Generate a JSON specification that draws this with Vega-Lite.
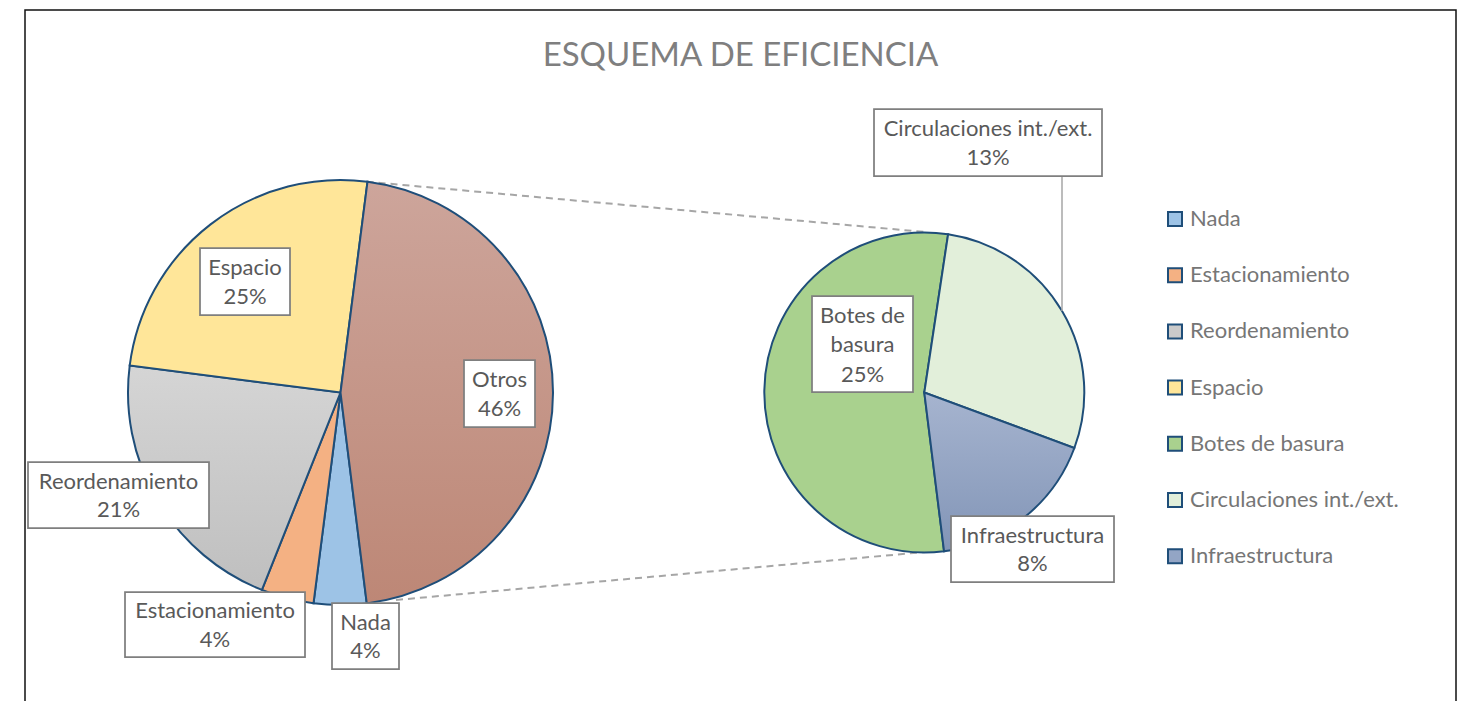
{
  "$schema": "https://vega.github.io/schema/vega-lite/v6.json",
  "width": 1431,
  "height": 692,
  "autosize": {"type": "none"},
  "padding": {"left": 25, "top": 10, "right": 14, "bottom": 0},
  "background": "#ffffff",
  "config": {"view": {"stroke": "#111111", "strokeWidth": 1.5}, "font": "Lato"},
  "title": {
    "text": "ESQUEMA DE EFICIENCIA",
    "anchor": "middle",
    "frame": "group",
    "font": "Lato",
    "fontSize": 33,
    "fontWeight": "normal",
    "color": "#7f7f7f",
    "baseline": "alphabetic",
    "offset": -89
  },
  "datasets": {
    "sectores": [
      {"pie": "Principal", "orden": 1, "categoria": "Nada", "valor": 4, "etiqueta": "Nada\n4%"},
      {"pie": "Principal", "orden": 2, "categoria": "Estacionamiento", "valor": 4, "etiqueta": "Estacionamiento\n4%"},
      {"pie": "Principal", "orden": 3, "categoria": "Reordenamiento", "valor": 21, "etiqueta": "Reordenamiento\n21%"},
      {"pie": "Principal", "orden": 4, "categoria": "Espacio", "valor": 25, "etiqueta": "Espacio\n25%"},
      {"pie": "Principal", "orden": 5, "categoria": "Otros", "valor": 46, "etiqueta": "Otros\n46%"},
      {"pie": "Secundario", "orden": 1, "categoria": "Botes de basura", "valor": 25, "etiqueta": "Botes de\nbasura\n25%"},
      {"pie": "Secundario", "orden": 2, "categoria": "Circulaciones int./ext.", "valor": 13, "etiqueta": "Circulaciones int./ext.\n13%"},
      {"pie": "Secundario", "orden": 3, "categoria": "Infraestructura", "valor": 8, "etiqueta": "Infraestructura\n8%"}
    ],
    "enlaces": [
      {"desde": "Principal", "hasta": "Secundario"}
    ]
  },
  "resolve": {"scale": {"theta": "independent"}},
  "layer": [
    {
      "data": {"name": "enlaces"},
      "mark": {"type": "rule", "stroke": "#a6a6a6", "strokeWidth": 2, "strokeDash": [7, 5], "xOffset": 26.1, "yOffset": -210.8, "x2Offset": 0.7, "y2Offset": -160.5},
      "encoding": {
        "x": {"field": "desde", "type": "nominal", "scale": {"type": "point", "domain": ["Principal", "Secundario"], "range": [315.5, 899.3], "padding": 0}, "axis": null},
        "x2": {"field": "hasta"},
        "y": {"field": "desde", "type": "nominal", "scale": {"type": "point", "domain": ["Principal", "Secundario"], "range": [382.5, 382.5], "padding": 0}, "axis": null},
        "y2": {"field": "hasta"}
      }
    },
    {
      "data": {"name": "enlaces"},
      "mark": {"type": "rule", "stroke": "#a6a6a6", "strokeWidth": 2, "strokeDash": [7, 5], "xOffset": 55.5, "yOffset": 207.5, "x2Offset": 0.7, "y2Offset": 159.5},
      "encoding": {
        "x": {"field": "desde", "type": "nominal", "axis": null},
        "x2": {"field": "hasta"},
        "y": {"field": "desde", "type": "nominal", "axis": null},
        "y2": {"field": "hasta"}
      }
    },
    {
      "data": {"name": "sectores"},
      "transform": [{"filter": "datum.pie === 'Principal'"}],
      "mark": {"type": "arc", "outerRadius": 212.5, "stroke": "#1F4E79", "strokeWidth": 2},
      "encoding": {
        "x": {"field": "pie", "type": "nominal", "axis": null},
        "y": {"field": "pie", "type": "nominal", "axis": null},
        "theta": {"field": "valor", "type": "quantitative", "stack": true, "scale": {"range": [3.0177, 9.3009], "nice": false, "zero": true}},
        "order": {"field": "orden", "type": "quantitative"},
        "color": {
          "field": "categoria",
          "type": "nominal",
          "scale": {
            "domain": ["Nada", "Estacionamiento", "Reordenamiento", "Espacio", "Botes de basura", "Circulaciones int./ext.", "Infraestructura"],
            "range": ["#9DC3E6", "#F4B183", "#CACACA", "#FFE699", "#A9D18E", "#E2EFDA", "#93A5C5"]
          },
          "legend": {"orient": "none", "legendX": 1139, "legendY": 198, "title": null, "symbolType": "square", "symbolSize": 196, "symbolStrokeColor": "#1F4E79", "symbolStrokeWidth": 2, "labelFont": "Lato", "labelFontSize": 22, "labelColor": "#767676", "labelOffset": 4, "labelLimit": 400, "rowPadding": 34.2, "padding": 0, "offset": 0},
          "condition": [
            {"test": "datum.categoria === 'Otros'", "value": {"gradient": "linear", "x1": 0, "y1": 0, "x2": 0, "y2": 1, "stops": [{"offset": 0, "color": "#CDA59B"}, {"offset": 1, "color": "#BD8776"}]}},
            {"test": "datum.categoria === 'Reordenamiento'", "value": {"gradient": "linear", "x1": 0, "y1": 0, "x2": 0, "y2": 1, "stops": [{"offset": 0, "color": "#D5D5D5"}, {"offset": 1, "color": "#BFBFBF"}]}}
          ]
        }
      }
    },
    {
      "data": {"name": "sectores"},
      "transform": [{"filter": "datum.pie === 'Secundario'"}],
      "mark": {"type": "arc", "outerRadius": 160, "stroke": "#1F4E79", "strokeWidth": 2},
      "encoding": {
        "x": {"field": "pie", "type": "nominal", "axis": null},
        "y": {"field": "pie", "type": "nominal", "axis": null},
        "theta": {"field": "valor", "type": "quantitative", "stack": true, "scale": {"range": [3.0177, 9.3009], "nice": false, "zero": true}},
        "order": {"field": "orden", "type": "quantitative"},
        "color": {
          "field": "categoria",
          "type": "nominal",
          "condition": [
            {"test": "datum.categoria === 'Infraestructura'", "value": {"gradient": "linear", "x1": 0, "y1": 0, "x2": 0, "y2": 1, "stops": [{"offset": 0, "color": "#A6B4CF"}, {"offset": 1, "color": "#8295B7"}]}}
          ]
        }
      }
    },
    {
      "data": {"name": "sectores"},
      "transform": [{"filter": "datum.categoria === 'Circulaciones int./ext.'"}],
      "mark": {"type": "rule", "stroke": "#a6a6a6", "strokeWidth": 1.5, "xOffset": 137.7, "x2Offset": 137.7, "yOffset": -216.5, "y2Offset": -81.5},
      "encoding": {
        "x": {"field": "pie", "type": "nominal", "axis": null},
        "x2": {"field": "pie"},
        "y": {"field": "pie", "type": "nominal", "axis": null},
        "y2": {"field": "pie"}
      }
    },
    {
      "data": {"name": "sectores"},
      "transform": [{"filter": "datum.categoria === 'Espacio'"}],
      "encoding": {
        "x": {"field": "pie", "type": "nominal", "axis": null},
        "y": {"field": "pie", "type": "nominal", "axis": null},
        "text": {"field": "etiqueta"}
      },
      "layer": [
        {"mark": {"type": "point", "shape": "M-0.9,-0.67H0.9V0.67H-0.9Z", "size": 10000, "filled": true, "fill": "#ffffff", "stroke": "#7f7f7f", "strokeWidth": 1.75, "opacity": 1, "xOffset": -95.5, "yOffset": -111}},
        {"mark": {"type": "text", "xOffset": -95.5, "yOffset": -124.4, "align": "center", "baseline": "middle", "lineBreak": "\n", "lineHeight": 28.7, "fontSize": 22, "font": "Lato", "fill": "#595959"}}
      ]
    },
    {
      "data": {"name": "sectores"},
      "transform": [{"filter": "datum.categoria === 'Otros'"}],
      "encoding": {
        "x": {"field": "pie", "type": "nominal", "axis": null},
        "y": {"field": "pie", "type": "nominal", "axis": null},
        "text": {"field": "etiqueta"}
      },
      "layer": [
        {"mark": {"type": "point", "shape": "M-0.71,-0.67H0.71V0.67H-0.71Z", "size": 10000, "filled": true, "fill": "#ffffff", "stroke": "#7f7f7f", "strokeWidth": 1.75, "opacity": 1, "xOffset": 159, "yOffset": 1}},
        {"mark": {"type": "text", "xOffset": 159, "yOffset": -12.4, "align": "center", "baseline": "middle", "lineBreak": "\n", "lineHeight": 28.7, "fontSize": 22, "font": "Lato", "fill": "#595959"}}
      ]
    },
    {
      "data": {"name": "sectores"},
      "transform": [{"filter": "datum.categoria === 'Reordenamiento'"}],
      "encoding": {
        "x": {"field": "pie", "type": "nominal", "axis": null},
        "y": {"field": "pie", "type": "nominal", "axis": null},
        "text": {"field": "etiqueta"}
      },
      "layer": [
        {"mark": {"type": "point", "shape": "M-1.81,-0.66H1.81V0.66H-1.81Z", "size": 10000, "filled": true, "fill": "#ffffff", "stroke": "#7f7f7f", "strokeWidth": 1.75, "opacity": 1, "xOffset": -222, "yOffset": 102.5}},
        {"mark": {"type": "text", "xOffset": -222, "yOffset": 89.1, "align": "center", "baseline": "middle", "lineBreak": "\n", "lineHeight": 28.7, "fontSize": 22, "font": "Lato", "fill": "#595959"}}
      ]
    },
    {
      "data": {"name": "sectores"},
      "transform": [{"filter": "datum.categoria === 'Estacionamiento'"}],
      "encoding": {
        "x": {"field": "pie", "type": "nominal", "axis": null},
        "y": {"field": "pie", "type": "nominal", "axis": null},
        "text": {"field": "etiqueta"}
      },
      "layer": [
        {"mark": {"type": "point", "shape": "M-1.8,-0.65H1.8V0.65H-1.8Z", "size": 10000, "filled": true, "fill": "#ffffff", "stroke": "#7f7f7f", "strokeWidth": 1.75, "opacity": 1, "xOffset": -125.5, "yOffset": 232}},
        {"mark": {"type": "text", "xOffset": -125.5, "yOffset": 218.6, "align": "center", "baseline": "middle", "lineBreak": "\n", "lineHeight": 28.7, "fontSize": 22, "font": "Lato", "fill": "#595959"}}
      ]
    },
    {
      "data": {"name": "sectores"},
      "transform": [{"filter": "datum.categoria === 'Nada'"}],
      "encoding": {
        "x": {"field": "pie", "type": "nominal", "axis": null},
        "y": {"field": "pie", "type": "nominal", "axis": null},
        "text": {"field": "etiqueta"}
      },
      "layer": [
        {"mark": {"type": "point", "shape": "M-0.67,-0.66H0.67V0.66H-0.67Z", "size": 10000, "filled": true, "fill": "#ffffff", "stroke": "#7f7f7f", "strokeWidth": 1.75, "opacity": 1, "xOffset": 25, "yOffset": 243.5}},
        {"mark": {"type": "text", "xOffset": 25, "yOffset": 230.1, "align": "center", "baseline": "middle", "lineBreak": "\n", "lineHeight": 28.7, "fontSize": 22, "font": "Lato", "fill": "#595959"}}
      ]
    },
    {
      "data": {"name": "sectores"},
      "transform": [{"filter": "datum.categoria === 'Circulaciones int./ext.'"}],
      "encoding": {
        "x": {"field": "pie", "type": "nominal", "axis": null},
        "y": {"field": "pie", "type": "nominal", "axis": null},
        "text": {"field": "etiqueta"}
      },
      "layer": [
        {"mark": {"type": "point", "shape": "M-2.28,-0.67H2.28V0.67H-2.28Z", "size": 10000, "filled": true, "fill": "#ffffff", "stroke": "#7f7f7f", "strokeWidth": 1.75, "opacity": 1, "xOffset": 63.7, "yOffset": -250}},
        {"mark": {"type": "text", "xOffset": 63.7, "yOffset": -263.4, "align": "center", "baseline": "middle", "lineBreak": "\n", "lineHeight": 28.7, "fontSize": 22, "font": "Lato", "fill": "#595959"}}
      ]
    },
    {
      "data": {"name": "sectores"},
      "transform": [{"filter": "datum.categoria === 'Botes de basura'"}],
      "encoding": {
        "x": {"field": "pie", "type": "nominal", "axis": null},
        "y": {"field": "pie", "type": "nominal", "axis": null},
        "text": {"field": "etiqueta"}
      },
      "layer": [
        {"mark": {"type": "point", "shape": "M-1.01,-0.96H1.01V0.96H-1.01Z", "size": 10000, "filled": true, "fill": "#ffffff", "stroke": "#7f7f7f", "strokeWidth": 1.75, "opacity": 1, "xOffset": -61.8, "yOffset": -48.5}},
        {"mark": {"type": "text", "xOffset": -61.8, "yOffset": -77, "align": "center", "baseline": "middle", "lineBreak": "\n", "lineHeight": 29.5, "fontSize": 22, "font": "Lato", "fill": "#595959"}}
      ]
    },
    {
      "data": {"name": "sectores"},
      "transform": [{"filter": "datum.categoria === 'Infraestructura'"}],
      "encoding": {
        "x": {"field": "pie", "type": "nominal", "axis": null},
        "y": {"field": "pie", "type": "nominal", "axis": null},
        "text": {"field": "etiqueta"}
      },
      "layer": [
        {"mark": {"type": "point", "shape": "M-1.63,-0.66H1.63V0.66H-1.63Z", "size": 10000, "filled": true, "fill": "#ffffff", "stroke": "#7f7f7f", "strokeWidth": 1.75, "opacity": 1, "xOffset": 108.2, "yOffset": 156.5}},
        {"mark": {"type": "text", "xOffset": 108.2, "yOffset": 143.1, "align": "center", "baseline": "middle", "lineBreak": "\n", "lineHeight": 28.7, "fontSize": 22, "font": "Lato", "fill": "#595959"}}
      ]
    }
  ]
}
